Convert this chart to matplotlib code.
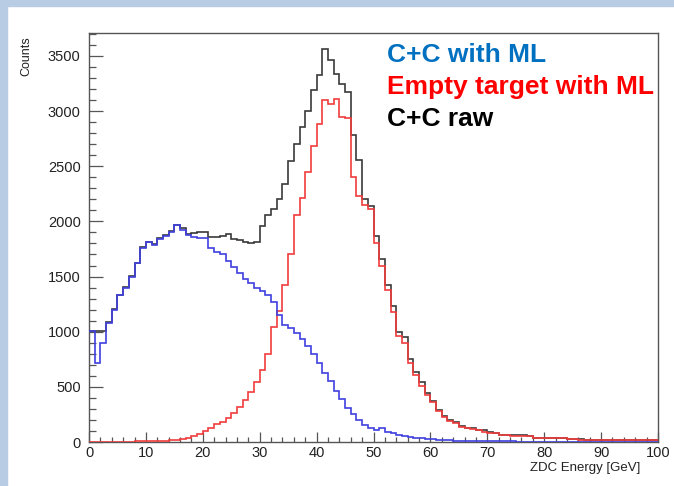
import numpy as np
import matplotlib
matplotlib.use("Agg")
import matplotlib.pyplot as plt
from matplotlib.ticker import MultipleLocator

plt.rcParams['font.family'] = ['Liberation Sans', 'DejaVu Sans']

# ZDC energy spectra, 1 GeV bins from 0 to 100 GeV
bin_edges = np.linspace(0, 100, 101)

cc_ml = [1010, 716, 900, 1080, 1200, 1330, 1400, 1500, 1620, 1760,
         1810, 1790, 1840, 1870, 1905, 1965, 1920, 1880, 1855, 1850,
         1845, 1760, 1725, 1700, 1640, 1590, 1535, 1480, 1440, 1400,
         1365, 1330, 1265, 1150, 1065, 1030, 990, 930, 870, 800,
         720, 630, 550, 460, 390, 310, 255, 200, 150, 125,
         110, 130, 95, 80, 65, 55, 45, 38, 32, 28,
         24, 20, 18, 15, 13, 12, 10, 9, 8, 7,
         6, 6, 5, 5, 5, 4, 4, 4, 3, 3,
         3, 3, 3, 2, 2, 2, 2, 2, 2, 2,
         1, 1, 1, 1, 1, 1, 1, 1, 1, 1]

empty_ml = [2, 2, 3, 3, 3, 3, 4, 4, 5, 5,
            6, 7, 8, 10, 14, 18, 28, 38, 55, 70,
            100, 125, 160, 185, 215, 260, 315, 380, 450, 540,
            650, 800, 1040, 1190, 1420, 1700, 2060, 2210, 2450, 2680,
            2880, 3100, 3060, 3110, 2950, 2940, 2400, 2230, 2150, 2110,
            1800, 1600, 1380, 1180, 960, 900, 720, 610, 510, 425,
            360, 280, 225, 190, 170, 140, 125, 115, 105, 95,
            85, 80, 62, 60, 58, 58, 56, 55, 38, 36,
            35, 34, 33, 32, 24, 23, 22, 21, 21, 20,
            19, 19, 18, 18, 17, 17, 16, 16, 15, 15]

cc_raw = [1010, 1010, 1005, 1085, 1205, 1335, 1405, 1505, 1625, 1765,
          1815, 1795, 1845, 1875, 1910, 1970, 1940, 1890, 1895, 1900,
          1900, 1860, 1860, 1870, 1885, 1840, 1835, 1810, 1800, 1810,
          1960, 2060, 2110, 2200, 2340, 2550, 2700, 2860, 3000, 3190,
          3330, 3560, 3460, 3340, 3250, 3170, 2780, 2560, 2200, 2140,
          1870, 1660, 1420, 1230, 1000, 950, 750, 635, 540, 445,
          375, 290, 240, 200, 180, 145, 130, 125, 110, 105,
          90, 85, 65, 63, 62, 62, 60, 58, 40, 38,
          37, 36, 35, 34, 25, 24, 23, 22, 22, 21,
          20, 20, 19, 19, 18, 18, 17, 17, 16, 16]

legend_labels = ["C+C with ML", "Empty target with ML", "C+C raw"]
legend_colors = ["#0070c0", "#ff0000", "#000000"]

fig = plt.figure(figsize=(6.74, 4.86), dpi=100)
fig.patch.set_facecolor("white")

# light blue slide border on the left and top
fig.patches.append(plt.Rectangle((0, 0), 7 / 674, 1, transform=fig.transFigure,
                                 color="#b8cce4", zorder=0))
fig.patches.append(plt.Rectangle((0, 1 - 6 / 486), 1, 6 / 486, transform=fig.transFigure,
                                 color="#b8cce4", zorder=0))

ax = fig.add_axes([89 / 674, 44 / 486, 569 / 674, 409 / 486])

ax.stairs(cc_raw, bin_edges, color="#3a3a3a", lw=1.2, baseline=None, zorder=3)
ax.stairs(empty_ml, bin_edges, color="#f03c3c", lw=1.2, baseline=None, zorder=3)
ax.stairs(cc_ml, bin_edges, color="#4040e0", lw=1.2, baseline=None, zorder=3)

ax.set_xlim(0, 100)
ax.set_ylim(0, 3708)

ax.xaxis.set_major_locator(MultipleLocator(10))
ax.xaxis.set_minor_locator(MultipleLocator(2))
ax.yaxis.set_major_locator(MultipleLocator(500))
ax.yaxis.set_minor_locator(MultipleLocator(100))

ax.tick_params(axis="both", which="both", direction="in", colors="#555555",
               labelcolor="#222222", labelsize=10.5)
ax.tick_params(axis="x", which="major", length=7.5, width=0.9, pad=3)
ax.tick_params(axis="x", which="minor", length=3.8, width=0.9)
ax.tick_params(axis="y", which="major", length=10, width=0.9, pad=6)
ax.tick_params(axis="y", which="minor", length=5, width=0.9)

for side in ax.spines.values():
    side.set_color("#555555")
    side.set_linewidth(1.0)

fig.text(640 / 674, 1 - 468 / 486, "ZDC Energy [GeV]", ha="right", va="center",
         fontsize=9.5, color="#222222")
fig.text(26 / 674, 1 - 56 / 486, "Counts", ha="center", va="center",
         rotation=90, fontsize=9, color="#222222")

baselines = [62, 94, 126]
for label, color, yb in zip(legend_labels, legend_colors, baselines):
    fig.text(387 / 674, 1 - yb / 486, label, ha="left", va="baseline",
             fontsize=19, fontweight="bold", color=color)

fig.savefig("out.png", dpi=100)
